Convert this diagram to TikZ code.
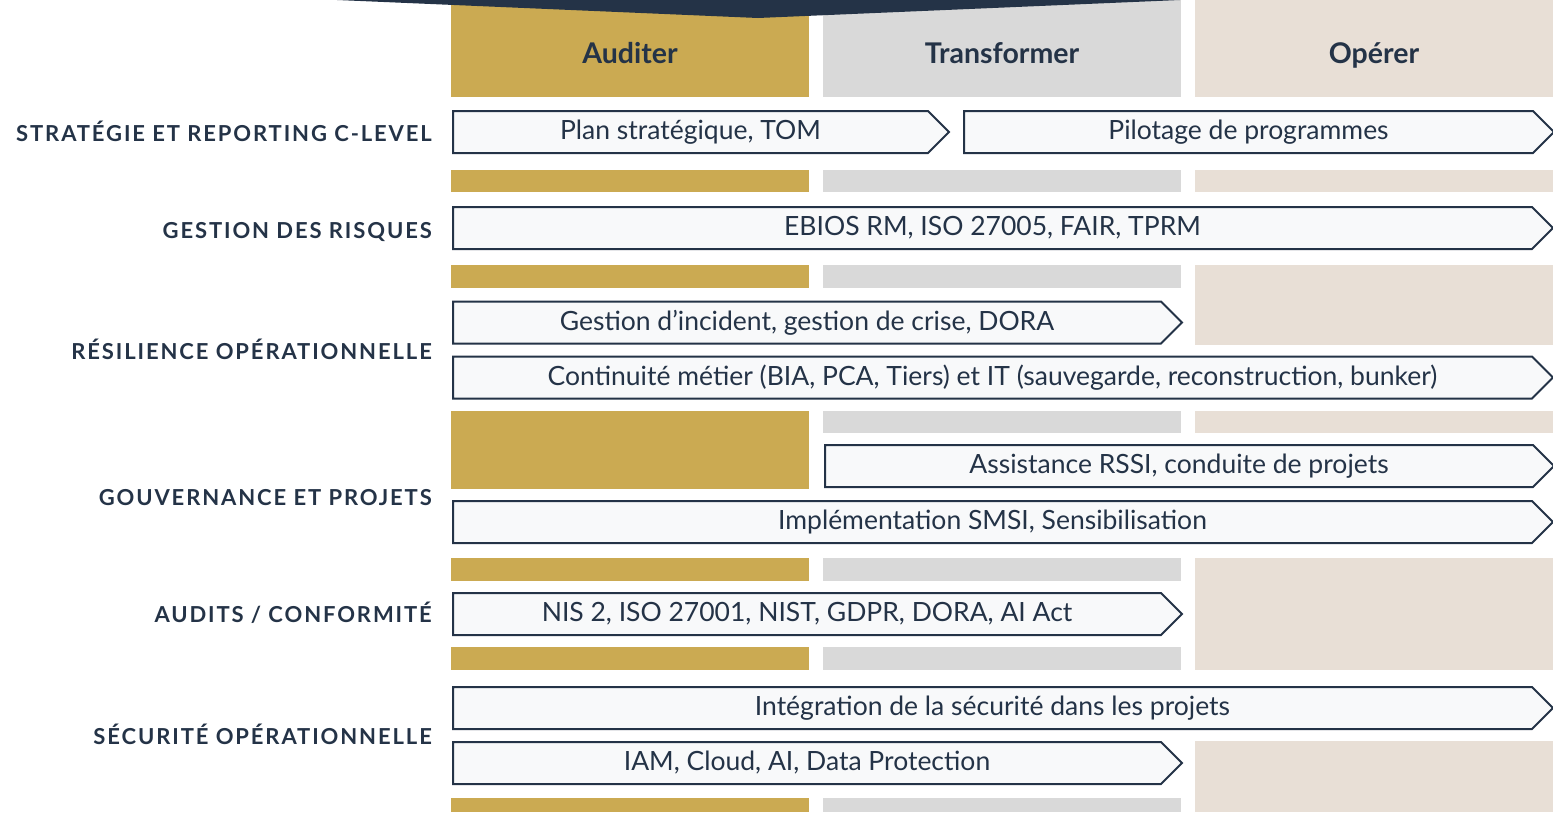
\documentclass[tikz,border=0pt]{standalone}
\usepackage{fontspec}
\setmainfont{Lato}
\usetikzlibrary{shapes.symbols}
\definecolor{gold}{HTML}{CBAA52}
\definecolor{lgray}{HTML}{D9D9D9}
\definecolor{beige}{HTML}{E8DFD6}
\definecolor{navy}{HTML}{243347}
\definecolor{chevfill}{HTML}{F8F9FA}

\begin{document}
\begin{tikzpicture}[x=1pt,y=-1pt,
  chev/.style={signal, signal to=east, signal pointer angle=90, draw=navy,
    line width=2pt, fill=chevfill, minimum height=42pt, inner sep=0pt,
    anchor=west, text=navy, font=\fontsize{26.5}{26.5}\selectfont},
  lbl/.style={anchor=base east, inner sep=0pt, text=navy,
    font=\bfseries\fontsize{22}{22}\selectfont\addfontfeature{LetterSpace=8.6}},
  head/.style={anchor=base, text=navy, font=\bfseries\fontsize{28.5}{28.5}\selectfont}]

\useasboundingbox (0,0) rectangle (1553,812);

% column bands
\foreach \ya/\yb in {0/97,170/192,265/288,411/489,558/581,647/670,798/812}
  \fill[gold] (451,\ya) rectangle (809,\yb);
\foreach \ya/\yb in {0/97,170/192,265/288,411/433,558/581,647/670,798/812}
  \fill[lgray] (823,\ya) rectangle (1181,\yb);
\foreach \ya/\yb in {0/97,170/192,265/345,411/433,558/670,741/812}
  \fill[beige] (1195,\ya) rectangle (1553,\yb);

\fill[navy] (337,0) -- (758,18) -- (1180,0) -- cycle;

\node[head] (aud) at (630,63) {Auditer};
\node[head] (tra) at (1002,63) {Transformer};
\node[head] (ope) at (1374,63) {Opérer};

\node[lbl] (strat) at (432,141) {STRATÉGIE ET REPORTING C-LEVEL};
\node[lbl] (risq) at (432,238) {GESTION DES RISQUES};
\node[lbl] (resil) at (432,359) {RÉSILIENCE OPÉRATIONNELLE};
\node[lbl] (gouv) at (432,505) {GOUVERNANCE ET PROJETS};
\node[lbl] (audit) at (432,622) {AUDITS / CONFORMITÉ};
\node[lbl] (secu) at (432,744) {SÉCURITÉ OPÉRATIONNELLE};

\node[chev, minimum width=496pt] (plan) at (452,132) {Plan stratégique, TOM};
\node[chev, minimum width=590pt] (pilot) at (963,132) {Pilotage de programmes};
\node[chev, minimum width=1100pt] (ebios) at (452,228) {EBIOS RM, ISO 27005, FAIR, TPRM};
\node[chev, minimum width=729pt] (incid) at (452,322.5) {Gestion d’incident, gestion de crise, DORA};
\node[chev, minimum width=1100pt] (contin) at (452,377.5) {Continuité métier (BIA, PCA, Tiers) et IT (sauvegarde, reconstruction, bunker)};
\node[chev, minimum width=729pt] (rssi) at (824,466) {Assistance RSSI, conduite de projets};
\node[chev, minimum width=1100pt] (smsi) at (452,522) {Implémentation SMSI, Sensibilisation};
\node[chev, minimum width=729pt] (nis) at (452,614) {NIS 2, ISO 27001, NIST, GDPR, DORA, AI Act};
\node[chev, minimum width=1100pt] (integ) at (452,708) {Intégration de la sécurité dans les projets};
\node[chev, minimum width=729pt] (iam) at (452,763) {IAM, Cloud, AI, Data Protection};

\end{tikzpicture}
\end{document}
